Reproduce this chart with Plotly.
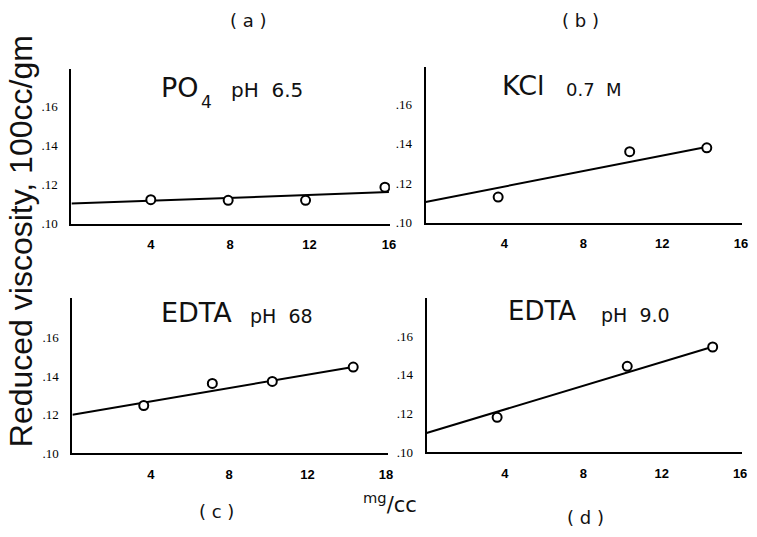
import plotly.graph_objects as go

W, H = 757, 537

# ---- data ----
a_x = [4.0, 7.9, 11.8, 15.8]
a_y = [0.1123, 0.1120, 0.1120, 0.1187]
a_fit_x = [0, 16]
a_fit_y = [0.1103, 0.1162]

b_x = [3.68, 10.35, 14.26]
b_y = [0.113, 0.136, 0.138]
b_fit_x = [0, 14.3]
b_fit_y = [0.1105, 0.1385]

c_x = [3.64, 7.14, 10.2, 14.33]
c_y = [0.1248, 0.1363, 0.1373, 0.1448]
c_fit_x = [0, 14.4]
c_fit_y = [0.1200, 0.1450]

d_x = [3.6, 10.24, 14.6]
d_y = [0.118, 0.1444, 0.1544]
d_fit_x = [0, 14.6]
d_fit_y = [0.1099, 0.1545]

x_tickvals = [4, 8, 12, 16]
x_ticktext = ["4", "8", "12", "16"]
x_ticktext_c = ["4", "8", "12", "18"]
y_tickvals = [0.10, 0.12, 0.14, 0.16]
y_ticktext = [".10", ".12", ".14", ".16"]

panels = [
    dict(x=a_x, y=a_y, fx=a_fit_x, fy=a_fit_y, xt=x_ticktext),
    dict(x=b_x, y=b_y, fx=b_fit_x, fy=b_fit_y, xt=x_ticktext),
    dict(x=c_x, y=c_y, fx=c_fit_x, fy=c_fit_y, xt=x_ticktext_c),
    dict(x=d_x, y=d_y, fx=d_fit_x, fy=d_fit_y, xt=x_ticktext),
]

# pixel geometry (page coords) of each plot area: (left, right, top, bottom), x max, y max
geom = [
    (72, 393, 70, 227, 16.05, 0.1795),
    (429, 748, 68, 226, 16.05, 0.179),
    (73, 391, 302, 460, 16.1, 0.181),
    (430, 748, 303, 459, 16.1, 0.1795),
]

def fx(px):
    return px / W

def fy(py):
    return 1 - py / H

fig = go.Figure()
layout = {}
for i, (p, g) in enumerate(zip(panels, geom)):
    n = "" if i == 0 else str(i + 1)
    xa, ya = "x" + n, "y" + n
    fig.add_trace(go.Scatter(x=p["fx"], y=p["fy"], mode="lines",
                             line=dict(color="black", width=2),
                             xaxis=xa, yaxis=ya, showlegend=False, hoverinfo="skip"))
    fig.add_trace(go.Scatter(x=p["x"], y=p["y"], mode="markers",
                             marker=dict(symbol="circle", size=9, color="white",
                                         line=dict(color="black", width=2)),
                             xaxis=xa, yaxis=ya, showlegend=False))
    l, r, t, b, xmax, ymax = g
    layout["xaxis" + n] = dict(
        domain=[fx(l), fx(r)], range=[0, xmax], anchor=ya,
        showline=True, linecolor="black", linewidth=2, showgrid=False, zeroline=False,
        tickvals=x_tickvals, ticktext=p["xt"], ticks="", ticklabelstandoff=8,
        ticklabeloverflow="allow",
        tickfont=dict(family="Liberation Sans", size=13, color="black", weight="bold"),
    )
    layout["yaxis" + n] = dict(
        domain=[fy(b), fy(t)], range=[0.10, ymax], anchor=xa,
        showline=True, linecolor="black", linewidth=2, showgrid=False, zeroline=False,
        tickvals=y_tickvals, ticktext=y_ticktext, ticks="", ticklabelstandoff=9,
        ticklabeloverflow="allow",
        tickfont=dict(family="Liberation Serif", size=13, color="black"),
    )

fig.update_layout(**layout)

F = "DejaVu Sans"
ann = []

def text(s, px, py, size, xanchor="left", textangle=0, family=F):
    ann.append(dict(text=s, x=fx(px), y=fy(py), xref="paper", yref="paper",
                    xanchor=xanchor, yanchor="middle", showarrow=False,
                    textangle=textangle,
                    font=dict(family=family, size=size, color="#111")))

# panel titles
text("PO", 160, 89, 27)
text("4", 201, 104, 17)
text("pH  6.5", 231, 91, 20)
text("KCl", 504, 87, 27)
text("0.7  M", 569, 91, 18)
text("EDTA", 160, 317, 27)
text("pH  68", 250, 321, 19)
text("EDTA", 510, 316, 26)
text("pH  9.0", 604, 320, 19)

# panel letters
text("( a )", 250, 21, 18, xanchor="center")
text("( b )", 585, 21, 18, xanchor="center")
text("( c )", 218, 519, 18, xanchor="center")
text("( d )", 590, 525, 18, xanchor="center")

# axis titles
text("<sup>mg</sup>/cc", 393, 511, 21, xanchor="center")
text("Reduced viscosity, 100cc/gm", 22, 245, 32, xanchor="center", textangle=-90,
     family="Liberation Sans")

fig.update_layout(
    width=W, height=H, margin=dict(l=0, r=0, t=0, b=0),
    paper_bgcolor="white", plot_bgcolor="white",
    annotations=ann, showlegend=False, hovermode=False,
)

fig.write_html("out.html", config={"displayModeBar": False},
               post_script="document.body.style.margin='0';document.body.style.overflow='hidden';")
